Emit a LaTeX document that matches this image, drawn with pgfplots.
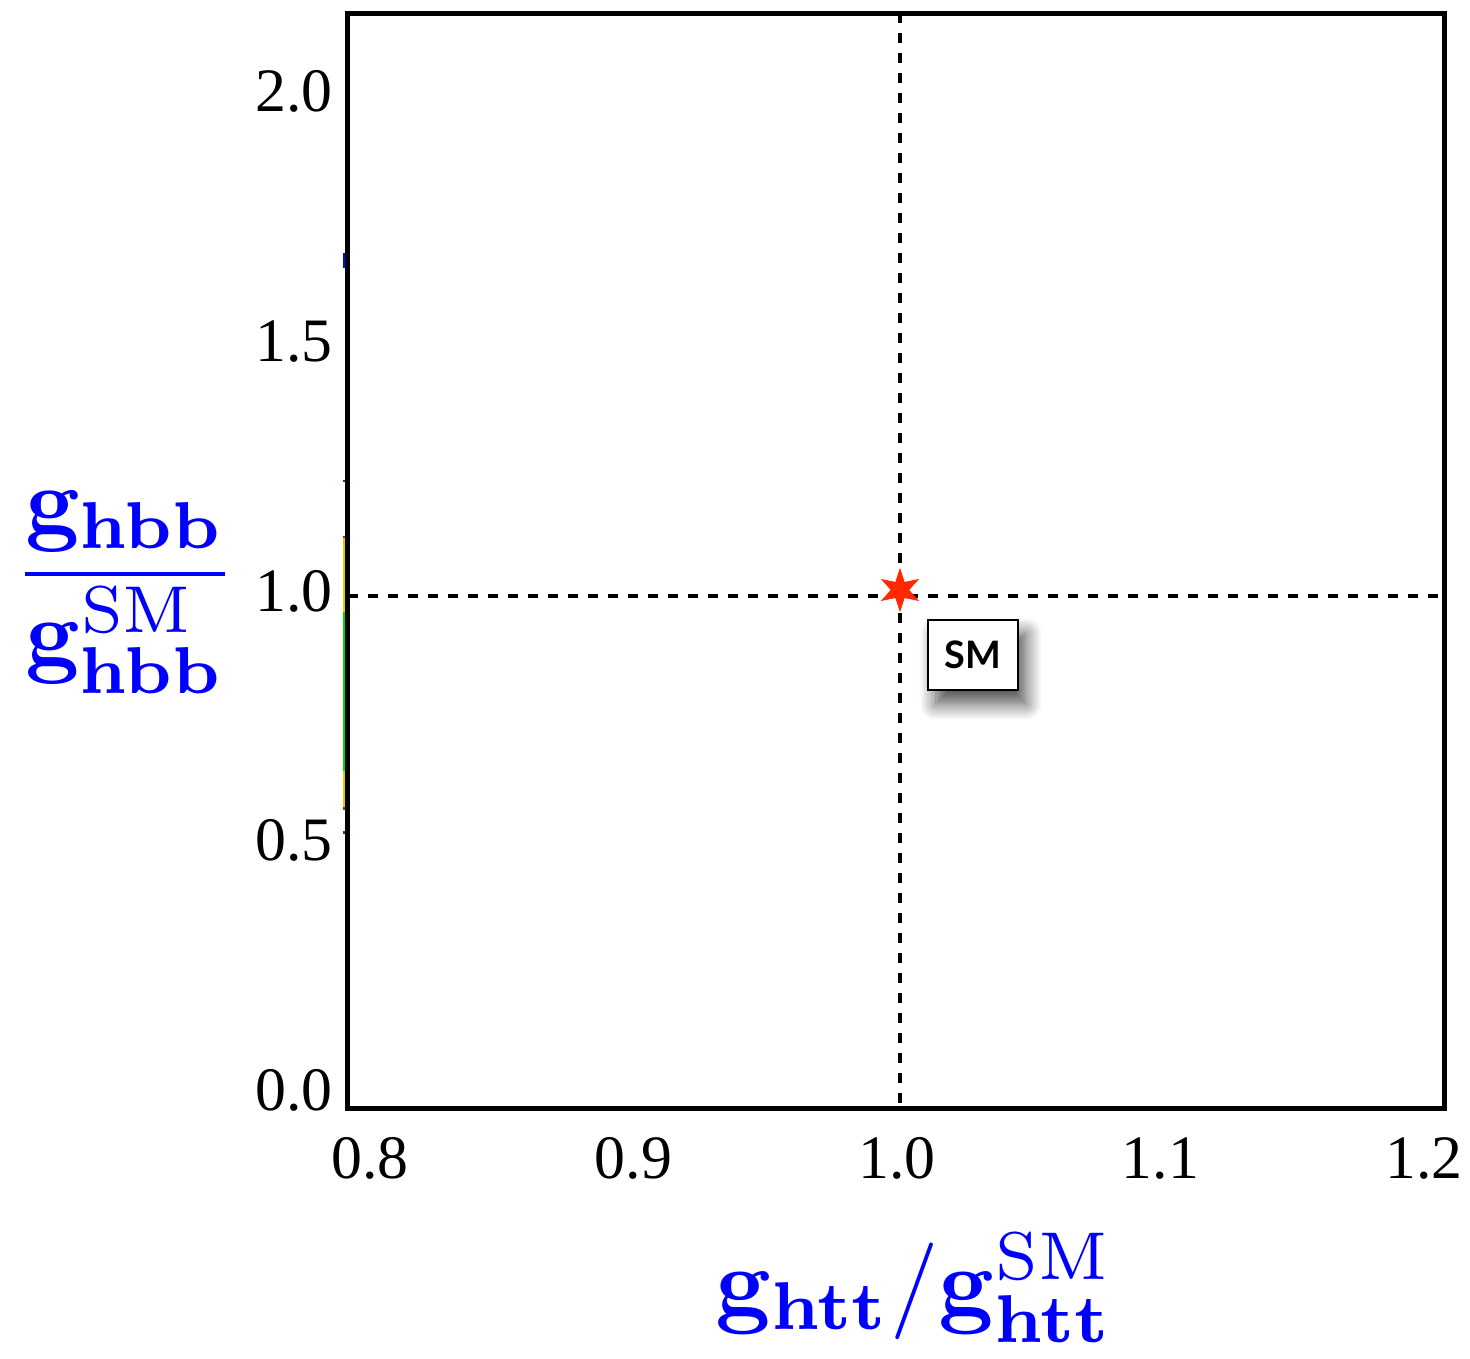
\documentclass[border=0pt]{standalone}
\usepackage[no-math]{fontspec}
\setmainfont{Liberation Serif}
\newfontfamily\smfont{Lato}
\usepackage{pgfplots}
\pgfplotsset{compat=1.18}
\usetikzlibrary{shadows.blur}
\definecolor{starred}{RGB}{255,40,0}
\definecolor{cyel}{RGB}{235,200,0}
\definecolor{cgreen}{RGB}{0,215,0}
\definecolor{cdblue}{RGB}{60,40,170}
\definecolor{cdred}{RGB}{170,30,60}
\pgfdeclareplotmark{star6}{%
  \pgfpathmoveto{\pgfpointpolar{90}{\pgfplotmarksize}}%
  \pgfpathlineto{\pgfpointpolar{120}{0.42\pgfplotmarksize}}%
  \pgfpathlineto{\pgfpointpolar{150}{\pgfplotmarksize}}%
  \pgfpathlineto{\pgfpointpolar{180}{0.42\pgfplotmarksize}}%
  \pgfpathlineto{\pgfpointpolar{210}{\pgfplotmarksize}}%
  \pgfpathlineto{\pgfpointpolar{240}{0.42\pgfplotmarksize}}%
  \pgfpathlineto{\pgfpointpolar{270}{\pgfplotmarksize}}%
  \pgfpathlineto{\pgfpointpolar{300}{0.42\pgfplotmarksize}}%
  \pgfpathlineto{\pgfpointpolar{330}{\pgfplotmarksize}}%
  \pgfpathlineto{\pgfpointpolar{0}{0.42\pgfplotmarksize}}%
  \pgfpathlineto{\pgfpointpolar{30}{\pgfplotmarksize}}%
  \pgfpathlineto{\pgfpointpolar{60}{0.42\pgfplotmarksize}}%
  \pgfpathclose
  \pgfusepathqfillstroke}
\begin{document}
\begin{tikzpicture}
\begin{axis}[
  scale only axis, width=548bp, height=547.5bp,
  xmin=0.7905, xmax=1.2065, ymin=-0.026, ymax=2.168,
  xtick={0.8,0.9,1.0,1.1,1.2}, ytick={0,0.5,1,1.5,2},
  major tick length=0pt, minor tick num=0,
  tick style={draw=none},
  axis line style={line width=2.5bp},
  clip=false,
  xticklabel style={font=\fontsize{31}{31}\selectfont, inner sep=0pt, anchor=north, yshift=-14.5bp, xshift=-1.5bp},
  yticklabel style={font=\fontsize{31}{31}\selectfont, inner sep=0pt, anchor=east, xshift=-7.5bp, yshift=2.5bp},
  /pgf/number format/.cd, fixed, fixed zerofill, precision=1, assume math mode=true,
]
% invisible frame giving the reference's margins
\path (rel axis cs:-0.3175,1.0119) rectangle (rel axis cs:1.0237,-0.2283);
% coloured slivers at the left edge
\addplot[blue, line width=1bp] coordinates {(0.78917,1.657) (0.78917,1.687)};
\addplot[cdblue, line width=1bp] coordinates {(0.78917,1.228) (0.78917,1.233)};
\addplot[cdred, line width=1bp] coordinates {(0.78917,1.115) (0.78917,1.120)};
\addplot[cyel, line width=1bp] coordinates {(0.78917,0.968) (0.78917,1.116)};
\addplot[cgreen, line width=1bp] coordinates {(0.78917,0.649) (0.78917,0.968)};
\addplot[cyel, line width=1bp] coordinates {(0.78917,0.577) (0.78917,0.649)};
\addplot[cdred, line width=1bp] coordinates {(0.78917,0.572) (0.78917,0.577)};
\addplot[cdblue, line width=1bp] coordinates {(0.78917,0.524) (0.78917,0.529)};
% dashed SM lines
\addplot[black, line width=2.3bp, dash pattern=on 4.8bp off 5.2bp] coordinates {(1.0,2.168) (1.0,-0.026)};
\addplot[black, line width=2.3bp, dash pattern=on 4.8bp off 5.2bp] coordinates {(0.7905,1.0) (1.2065,1.0)};
% SM point
\addplot[only marks, mark=star6, mark size=10.5bp, color=starred, mark options={fill=starred, draw=starred, line width=0.3bp}] coordinates {(1.0,1.012)};
% SM label box
\node[draw=black, line width=1.2bp, fill=white, minimum width=45bp, minimum height=35bp, inner sep=0pt,
  blur shadow={shadow xshift=4bp, shadow yshift=-7bp, shadow blur radius=8bp, shadow blur steps=12, shadow opacity=70},
  font=\smfont\bfseries\fontsize{19}{19}\selectfont] at (axis cs:1.0277,0.8818) {SM};
% axis labels
\node[anchor=base, text=blue, inner sep=0pt] at (rel axis cs:-0.2035,0.4658)
  {\scalebox{4.75}{$\displaystyle\frac{\mathbf{g}_{\mathbf{hbb}}}{\mathbf{g}^{\mathrm{SM}}_{\mathbf{hbb}}}$}};
\node[anchor=base west, text=blue, inner sep=0pt] at (rel axis cs:0.3349,-0.1890)
  {\scalebox{4.85}{$\mathbf{g}_{\mathbf{htt}}/\mathbf{g}^{\mathrm{SM}}_{\mathbf{htt}}$}};
\end{axis}
\end{tikzpicture}
\end{document}
